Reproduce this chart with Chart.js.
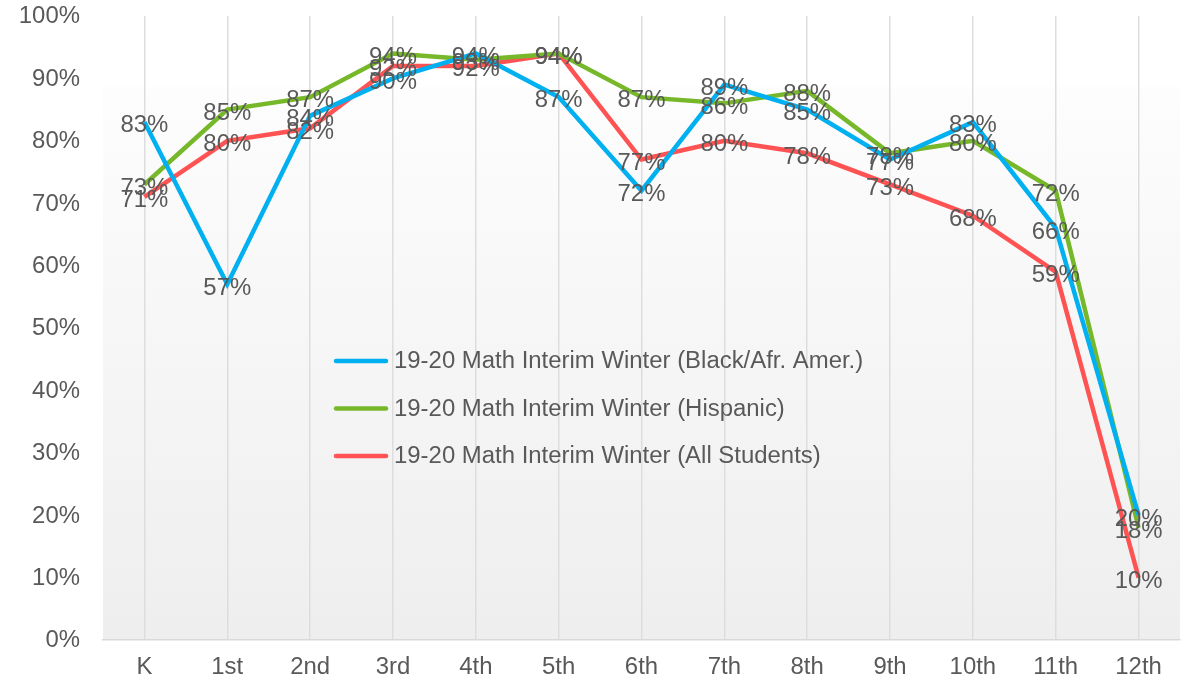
<!DOCTYPE html>
<html>
<head>
<meta charset="utf-8">
<script src="https://cdn.jsdelivr.net/npm/chart.js@4.4.1/dist/chart.umd.min.js"></script>
<style>
  html, body { margin: 0; padding: 0; background: #ffffff; }
  #wrap { width: 1190px; height: 685px; }
</style>
</head>
<body>
<div id="wrap"><canvas id="chart" width="1190" height="685"></canvas></div>
<script>
// grades on the x axis
const grades = ["K", "1st", "2nd", "3rd", "4th", "5th", "6th", "7th", "8th", "9th", "10th", "11th", "12th"];

// percent proficient per grade
const blackAfrAmer = [83, 57, 84, 90, 94, 87, 72, 89, 85, 77, 83, 66, 20];
const hispanic     = [73, 85, 87, 94, 93, 94, 87, 86, 88, 78, 80, 72, 18];
const allStudents  = [71, 80, 82, 92, 92, 94, 77, 80, 78, 73, 68, 59, 10];

const seriesNames = [
    "19-20 Math Interim Winter (Black/Afr. Amer.)",
    "19-20 Math Interim Winter (Hispanic)",
    "19-20 Math Interim Winter (All Students)"
];
const seriesColors = ["#00B0F0", "#76B82A", "#FF5353"];

const FONT = "23px Liberation Sans, Arial, sans-serif";
const TEXT = "#595959";
const STRETCH = 1.04; // text is drawn a touch wide

// draw a string stretched horizontally around its anchor
function wideText(ctx, str, x, y, align) {
    ctx.save();
    ctx.font = FONT;
    ctx.fillStyle = TEXT;
    ctx.textBaseline = "middle";
    ctx.textAlign = align;
    ctx.translate(x, y);
    ctx.scale(STRETCH, 1);
    ctx.fillText(str, 0, 0);
    ctx.restore();
}

// shaded plot background, drawn under the lines
const plotBackground = {
    id: "plotBackground",
    beforeDraw(c) {
        const a = c.chartArea, ctx = c.ctx;
        const top = 87;
        const g = ctx.createLinearGradient(0, top, 0, a.bottom);
        g.addColorStop(0, "#FDFDFD");
        g.addColorStop(1, "#EEEEEE");
        ctx.save();
        ctx.fillStyle = g;
        ctx.fillRect(a.left, top, a.right - a.left, a.bottom - top);
        ctx.restore();
    }
};

// axis tick labels
const axisLabels = {
    id: "axisLabels",
    afterDraw(c) {
        const x = c.scales.x, y = c.scales.y;
        y.ticks.forEach((t, i) => {
            wideText(c.ctx, t.value + "%", c.chartArea.left - 23, y.getPixelForTick(i) + 1, "right");
        });
        x.ticks.forEach((t, i) => {
            wideText(c.ctx, grades[t.value], x.getPixelForTick(i), 668, "center");
        });
    }
};

// value labels centred on every point
const pointLabels = {
    id: "pointLabels",
    afterDatasetsDraw(c) {
        c.data.datasets.forEach((ds, i) => {
            c.getDatasetMeta(i).data.forEach((pt, j) => {
                wideText(c.ctx, ds.data[j] + "%", pt.x, pt.y + 4, "center");
            });
        });
    }
};

// legend sits inside the plot area
const innerLegend = {
    id: "innerLegend",
    afterDraw(c) {
        const ctx = c.ctx;
        seriesNames.forEach((name, i) => {
            const y = 361 + i * 47.5;
            ctx.save();
            ctx.lineCap = "round";
            ctx.lineWidth = 4.5;
            ctx.strokeStyle = seriesColors[i];
            ctx.beginPath();
            ctx.moveTo(336, y);
            ctx.lineTo(386, y);
            ctx.stroke();
            ctx.restore();
            wideText(ctx, name, 394, y + 1, "left");
        });
    }
};

const datasets = [blackAfrAmer, hispanic, allStudents].map((vals, i) => ({
    label: seriesNames[i],
    data: vals,
    borderColor: seriesColors[i],
    backgroundColor: seriesColors[i],
    borderWidth: 4.5,
    pointRadius: 0,
    tension: 0,
    fill: false
}));

new Chart(document.getElementById("chart"), {
    type: "line",
    data: { labels: grades, datasets: datasets },
    plugins: [plotBackground, pointLabels, axisLabels, innerLegend],
    options: {
        responsive: false,
        animation: false,
        layout: { padding: { top: 16, right: 10, left: 0, bottom: 0 } },
        plugins: {
            legend: { display: false },
            tooltip: { enabled: false }
        },
        scales: {
            x: {
                offset: true,
                grid: { display: true, offset: false, color: "#DDDDDD", lineWidth: 1.5, drawTicks: false },
                border: { display: true, color: "#D9D9D9", width: 1.5 },
                ticks: { display: false },
                afterFit(s) { s.height = 45; }
            },
            y: {
                min: 0,
                max: 100,
                grid: { display: false, drawTicks: false },
                border: { display: false },
                ticks: { display: false, stepSize: 10 },
                afterFit(s) { s.width = 103; }
            }
        }
    }
});
</script>
</body>
</html>
